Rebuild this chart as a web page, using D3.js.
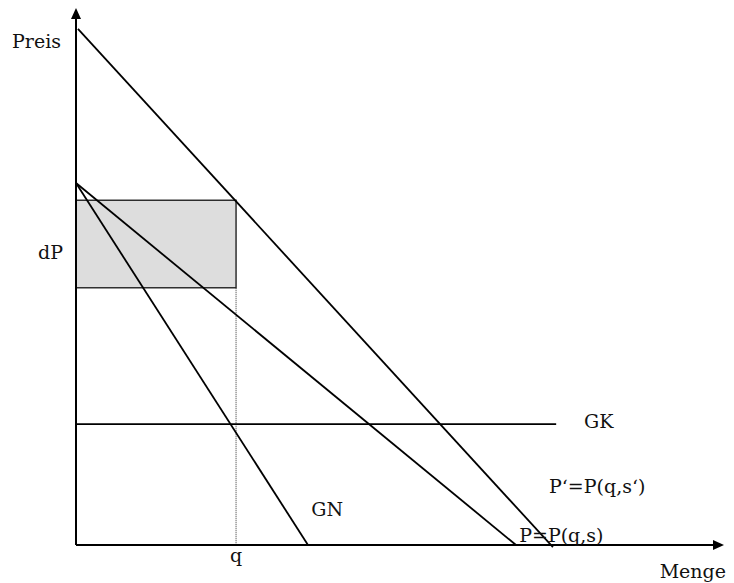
<!DOCTYPE html>
<html><head><meta charset="utf-8">
<script src="https://cdn.jsdelivr.net/npm/d3@7"></script>
<style>body{margin:0;background:#fff}svg{display:block}</style>
</head><body>
<script>
// Data (abstract units: quantity 0..100, price 0..100)
const demandPrime = [[0.3, 96.1], [73.6, -0.4]];   // P' = P(q,s')
const demand = [[0, 67.4], [67.9, 0]];             // P = P(q,s)
const marginalRevenue = [[0, 67.4], [35.8, 0]];    // GN
const marginalCost = [[0, 22.5], [74.1, 22.5]];    // GK
const qValue = 24.7;
const priceBand = [47.9, 64.2];                    // dP
const labels = [
  {text: "GK", x: 78.4, y: 21.8},
  {text: "P‘=P(q,s‘)", x: 73, y: 9.7},
  {text: "GN", x: 36.3, y: 5.4},
  {text: "P=P(q,s)", x: 68.4, y: 0.6}
];

const W = 734, H = 583;
const svg = d3.select("body").append("svg").attr("width", W).attr("height", H);
const x = d3.scaleLinear().domain([0, 100]).range([76, 724]);
const y = d3.scaleLinear().domain([0, 100]).range([545, 8]);

// shaded rectangle
svg.append("rect")
  .attr("x", x(0)).attr("y", y(priceBand[1]))
  .attr("width", x(qValue) - x(0)).attr("height", y(priceBand[0]) - y(priceBand[1]))
  .attr("fill", "#dddddd").attr("stroke", "#222").attr("stroke-width", 1.4);

// dotted q line
svg.append("line")
  .attr("x1", x(qValue)).attr("x2", x(qValue))
  .attr("y1", y(priceBand[0])).attr("y2", y(0))
  .attr("stroke", "#333").attr("stroke-width", 1).attr("stroke-dasharray", "1,1");

const line = d3.line().x(d => x(d[0])).y(d => y(d[1]));
[demandPrime, demand, marginalRevenue, marginalCost].forEach(d => {
  svg.append("path").attr("d", line(d)).attr("fill", "none")
    .attr("stroke", "#000").attr("stroke-width", 1.8);
});

// axes
svg.append("line").attr("x1", x(0)).attr("y1", y(0)).attr("x2", x(0)).attr("y2", y(100) + 10)
  .attr("stroke", "#000").attr("stroke-width", 2);
svg.append("line").attr("x1", x(0)).attr("y1", y(0)).attr("x2", x(100) - 10).attr("y2", y(0))
  .attr("stroke", "#000").attr("stroke-width", 2);
svg.append("path")
  .attr("d", `M${x(0)},${y(100)} L${x(0) - 5},${y(100) + 11} L${x(0) + 5},${y(100) + 11} Z`)
  .attr("fill", "#000");
svg.append("path")
  .attr("d", `M${x(100)},${y(0)} L${x(100) - 11},${y(0) - 5} L${x(100) - 11},${y(0) + 5} Z`)
  .attr("fill", "#000");

const fs = 19;
const FF = "'DejaVu Serif', 'Liberation Serif', serif";
function txt(t, px, py, anchor) {
  svg.append("text").attr("x", px).attr("y", py).attr("text-anchor", anchor || "start")
    .attr("font-family", FF).attr("font-size", fs).attr("fill", "#111").text(t);
}
txt("Preis", 61, 48, "end");
txt("dP", 63, 259, "end");
txt("q", x(qValue), 562, "middle");
txt("Menge", 726, 578, "end");
labels.forEach(l => txt(l.text, x(l.x), y(l.y)));
</script>
</body></html>
